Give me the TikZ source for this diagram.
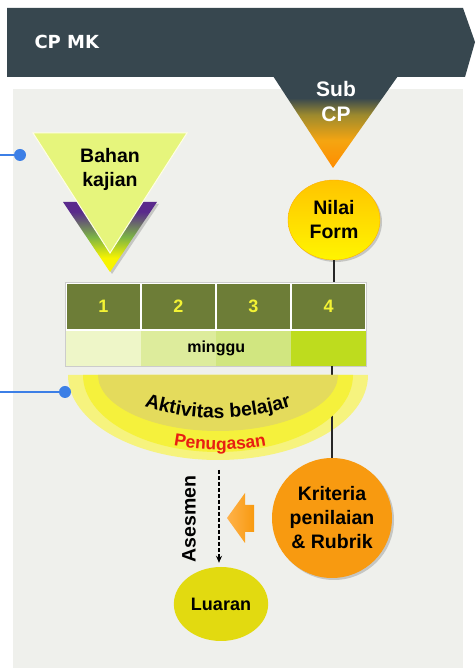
\documentclass[tikz,border=0pt]{standalone}
\usepackage{fontspec}
\setmainfont{Liberation Sans}
\newfontfamily\bannerfont{DejaVu Sans}
\usepackage{xcolor}
\usetikzlibrary{arrows.meta,shadows,shapes.geometric,decorations.text}

\definecolor{banner}{HTML}{37474F}
\definecolor{panel}{HTML}{EFF0EC}
\definecolor{suborange}{HTML}{FF8C00}
\definecolor{subamber}{HTML}{F5A511}
\definecolor{subgold}{HTML}{9C8A2E}
\definecolor{dotblue}{HTML}{3C7FE6}
\definecolor{bahanfill}{HTML}{E6F57C}
\definecolor{bahanpurple}{HTML}{5A2A8C}
\definecolor{bahangreen}{HTML}{7CB444}
\definecolor{bahanyellow}{HTML}{F8F400}
\definecolor{weekdark}{HTML}{6D7D37}
\definecolor{weeknum}{HTML}{F3F334}
\definecolor{weekA}{HTML}{EEF6C8}
\definecolor{weekB}{HTML}{DDEC9C}
\definecolor{weekC}{HTML}{D1E680}
\definecolor{weekD}{HTML}{BEDC1E}
\definecolor{aktouter}{HTML}{F6F37E}
\definecolor{aktband}{HTML}{F5F13C}
\definecolor{aktinner}{HTML}{E4DB5C}
\definecolor{tugasred}{HTML}{E81E12}
\definecolor{nilaitop}{HTML}{FFC400}
\definecolor{nilaibottom}{HTML}{FFF500}
\definecolor{kriteria}{HTML}{F89A10}
\definecolor{arrowlight}{HTML}{FFB24A}
\definecolor{luaran}{HTML}{E2DA10}

\pgfdeclareverticalshading{subcp}{100bp}{color(0bp)=(suborange); color(25bp)=(suborange); color(40bp)=(subamber); color(54bp)=(subgold); color(63bp)=(banner); color(100bp)=(banner)}
\pgfdeclareverticalshading{bahangrad}{100bp}{color(0bp)=(bahanyellow); color(25bp)=(bahanyellow); color(35bp)=(bahanyellow); color(50bp)=(bahangreen); color(68bp)=(bahanpurple); color(100bp)=(bahanpurple)}

\newcommand{\bigbold}{\fontsize{19.5}{24}\selectfont\bfseries}

\begin{document}
\begin{tikzpicture}[x=1pt, y=1pt,
  boldtext/.style={font=\bigbold, align=center},
  linkdot/.style={circle, fill=dotblue, inner sep=0pt, minimum size=12pt},
  weekcell/.style={fill=weekdark, draw=white, line width=1.5pt, minimum width=75pt, minimum height=47pt, inner sep=0pt, text=weeknum, font=\fontsize{18}{20}\selectfont\bfseries},
  weekbar/.style={minimum width=75pt, minimum height=35pt, inner sep=0pt},
  softshadow/.style={drop shadow={shadow xshift=2pt, shadow yshift=-2pt, opacity=0.3, fill=black!60}}]
\useasboundingbox (0,0) rectangle (475,668);

% panel and banner
\fill[panel] (13,0) rectangle (463,579);
\fill[banner] (7,591) -- (7,660) -- (463,660) -- (475,626) -- (465,591) -- cycle;
\shade[shading=subcp] (273,592) -- (398,592) -- (333,500) -- cycle;
\node[anchor=west, text=white, font=\bannerfont\fontsize{18}{20}\selectfont\bfseries] (cpmk) at (31,626) {CP MK};
\node[text=white, font=\fontsize{21}{25}\selectfont\bfseries, align=center] (subcp) at (336,566) {Sub\\CP};

% bahan kajian
\shade[shading=bahangrad, softshadow] (63,466) -- (157,466) -- (110,396) -- cycle;
\filldraw[fill=bahanfill, draw=white!90!yellow, line width=1pt] (33,535) -- (187,535) -- (110,415) -- cycle;
\node[boldtext] (bahan) at (110,499) {Bahan\\kajian};

\coordinate (bahanlink) at (0,513);
\node[linkdot] (dot1) at (20,513) {};
\draw[dotblue, line width=1.2pt] (bahanlink) -- (dot1);

% nilai form
\node[ellipse, minimum width=92pt, minimum height=80pt, top color=nilaitop, bottom color=nilaibottom, draw=nilaitop!70!orange, softshadow, boldtext] (nilai) at (334,448) {Nilai\\Form};

% minggu
\node[weekcell] (c1) at (103.5,361.5) {1};
\node[weekcell] (c2) at (178.5,361.5) {2};
\node[weekcell] (c3) at (253.5,361.5) {3};
\node[weekcell] (c4) at (328.5,361.5) {4};
\node[weekbar, fill=weekA] (m1) at (103.5,319.5) {};
\node[weekbar, fill=weekB] (m2) at (178.5,319.5) {};
\node[weekbar, fill=weekC] (m3) at (253.5,319.5) {};
\node[weekbar, fill=weekD] (m4) at (328.5,319.5) {};
\draw[black!20] (c1.north west) rectangle (m4.south east);
\node[font=\fontsize{16}{18}\selectfont\bfseries] (minggu) at (m2.east) {minggu};

\draw[line width=1.2pt, black!85] (nilai.south) -- (nilai.south |- c4.north);

% kriteria penilaian
\node[circle, minimum size=120pt, fill=kriteria, softshadow, boldtext] (kriteria) at (332,150) {Kriteria\\penilaian\\\& Rubrik};
\shade[left color=arrowlight, right color=kriteria] (227,150) -- (245,175) -- (245,163) -- (254,163) -- (254,136) -- (245,136) -- (245,125) -- cycle;

% aktivitas belajar
\fill[aktouter] (68,293) arc[start angle=180, end angle=360, x radius=150, y radius=85] -- cycle;
\draw[line width=1.2pt, black!85] (kriteria.north |- m4.south) -- (kriteria.north);
\fill[aktband] (83,293) arc[start angle=180, end angle=360, x radius=135, y radius=77] -- cycle;
\fill[aktinner] (98,293) arc[start angle=180, end angle=360, x radius=120, y radius=56] -- cycle;
\path[decorate, decoration={text along path, text align=center,
  text={|\fontsize{19.5}{24}\selectfont\bfseries|Aktivitas belajar}}]
  (218,491) ++(250:241) arc[start angle=250, end angle=290, radius=241];
\path[decorate, decoration={text along path, text align=center,
  text={|\color{tugasred}\fontsize{17.5}{20}\selectfont\bfseries|Penugasan}}]
  (220,478) ++(256:260) arc[start angle=256, end angle=284, radius=260];

\coordinate (aktlink) at (0,276);
\node[linkdot] (dot2) at (65,276) {};
\draw[dotblue, line width=1.2pt] (aktlink) -- (dot2);

% asesmen dan luaran
\node[ellipse, minimum width=82pt, minimum height=74pt, fill=luaran, font=\fontsize{18}{22}\selectfont\bfseries] (luaran) at (221,64) {Luaran};
\coordinate (asesstart) at (219,198);
\draw[line width=1.2pt, dash pattern=on 4pt off 2pt, shorten >=4pt, -{Stealth[length=7pt, width=6pt]}] (asesstart) -- (asesstart |- luaran.north);
\node[boldtext, rotate=90] (asesmen) at (189,149) {Asesmen};

\end{tikzpicture}
\end{document}
